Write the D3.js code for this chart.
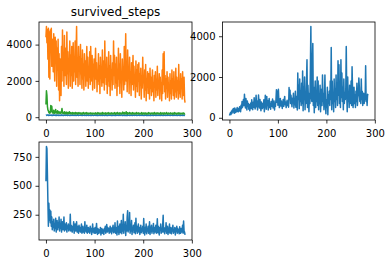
<!DOCTYPE html>
<html>
<head>
<meta charset="utf-8">
<script src="https://cdn.jsdelivr.net/npm/d3@7"></script>
<style>
  html, body { margin: 0; padding: 0; background: #fff; }
  svg { display: block; font-family: "DejaVu Sans", sans-serif; }
  .tick text { font-size: 10px; fill: #000; }
  .tick line { stroke: #000; stroke-width: 0.8; }
</style>
</head>
<body>
<svg id="fig" width="390" height="264"></svg>
<script>
// survived_steps panel: three series
const survivedBlue = [
  100, 120, 95, 110, 130, 105, 90, 115, 125, 100,
  110, 95, 120, 105, 90, 115, 130, 100, 110, 95,
  105, 125, 90, 110, 100, 120, 95, 115, 105, 90,
  110, 100, 125, 95, 115, 105, 90, 120, 100, 110,
  95, 115, 105, 125, 90, 110, 100, 120, 95, 105,
  115, 90, 110, 100, 125, 105, 95, 115, 100, 110,
  90, 120, 105, 95, 110, 100, 125, 90, 115, 105,
  100, 110, 95, 120, 105, 90, 115, 100, 110, 125,
  95, 105, 115, 90, 110, 100, 120, 95, 105, 115,
  100, 90, 110, 125, 95, 105, 115, 100, 90, 120,
  105, 110, 95, 115, 100, 125, 90, 110, 105, 95,
  120, 100, 110, 90, 115, 105, 95, 125, 100, 110,
  90, 105, 115, 100, 120, 95, 110, 90, 105, 115,
  125, 100, 95, 110, 105, 90, 120, 100, 115, 95,
  110, 105, 90, 125, 100, 115, 95, 110, 105, 120,
  90, 100, 115, 95, 110, 125, 105, 90, 120, 100,
  115, 95, 105, 110, 90, 120, 100, 125, 95, 110,
  105, 115, 90, 100, 120, 95, 110, 105, 90, 115,
  125, 100, 95, 110, 105, 120, 90, 115, 100, 95,
  110, 105, 125, 90, 100, 115, 95, 110, 120, 105,
  90, 100, 115, 95, 125, 110, 105, 90, 120, 100,
  115, 95, 105, 110, 90, 125, 100, 115, 95, 105,
  120, 90, 110, 100, 115, 95, 105, 125, 90, 110,
  100, 115, 95, 105, 120, 90, 110, 100, 125, 95,
  105, 115, 90, 110, 100, 120, 95, 105, 115, 90,
  125, 100, 110, 95, 105, 115, 90, 120, 100, 110,
  95, 105, 125, 90, 115, 100, 110, 95, 120, 105,
  90, 110, 100, 115, 95, 125, 105, 90, 110, 100,
  115, 95, 120, 105, 90, 110, 100
];
const survivedOrange = [
  4400, 5000, 4100, 4800, 3200, 4900, 2200, 4700, 2100, 4800,
  3600, 4900, 2800, 4300, 3900, 2500, 4600, 3300, 2000, 4400,
  3000, 4200, 1700, 3800, 2600, 4300, 1500, 3500, 900, 3200,
  2400, 1200, 3900, 2000, 4800, 2600, 3400, 1700, 4500, 2300,
  3800, 2900, 1800, 4700, 2400, 3600, 1600, 3200, 2800, 4200,
  1700, 3400, 2300, 3900, 1600, 2800, 4100, 2000, 3300, 2500,
  4200, 1800, 3600, 5000, 2200, 3100, 1700, 3900, 2600, 3300,
  1800, 4000, 2400, 3200, 1600, 3700, 2100, 2900, 1500, 3500,
  2300, 3100, 1700, 2800, 3900, 2000, 3300, 1600, 2700, 2200,
  3600, 1800, 3900, 2500, 2000, 3400, 1500, 2900, 2300, 3200,
  1600, 2700, 3800, 2100, 3000, 1400, 2600, 2000, 3500, 1800,
  2800, 1300, 3300, 2200, 2600, 1700, 3700, 2400, 1900, 3100,
  1500, 4200, 2200, 2900, 1800, 3300, 1300, 2500, 2000, 3600,
  1700, 2800, 1200, 3400, 2100, 2600, 1500, 3000, 1800, 4200,
  2300, 3400, 1600, 2900, 1900, 3300, 1200, 2600, 1700, 3800,
  2100, 2900, 1300, 3500, 1900, 2500, 1100, 3200, 2200, 2700,
  1500, 3900, 1800, 2800, 4600, 2000, 3100, 1400, 3700, 2300,
  2700, 1300, 3300, 1900, 2500, 1200, 3000, 1800, 2400, 3400,
  1500, 2800, 1900, 2300, 1100, 3100, 1700, 2600, 1400, 2900,
  2000, 3000, 1200, 2400, 1800, 2700, 1000, 2300, 1600, 3300,
  1900, 2200, 1100, 2600, 1500, 2900, 900, 2100, 1700, 2500,
  1300, 2400, 2000, 1000, 2700, 1600, 2200, 1200, 2000, 2600,
  1400, 1900, 900, 2300, 1700, 2500, 1100, 2100, 1500, 2800,
  1200, 2000, 1600, 2400, 1000, 2200, 1500, 1900, 900, 2600,
  1300, 3500, 1800, 3600, 1400, 2300, 1000, 2100, 1600, 2500,
  1100, 2200, 1500, 1800, 900, 2400, 1300, 2000, 1000, 2600,
  1600, 2100, 1200, 2500, 1000, 1900, 1400, 2700, 1100, 2200,
  1500, 2000, 1000, 2900, 1300, 1800, 1100, 2400, 1600, 2100,
  1000, 2500, 1200, 1900, 2200, 1000, 800
];
const survivedGreen = [
  700, 1450, 1200, 600, 400, 350, 250, 300, 220, 280,
  650, 320, 600, 250, 300, 220, 380, 260, 200, 300,
  420, 250, 300, 200, 350, 260, 220, 300, 250, 200,
  280, 220, 300, 480, 250, 200, 260, 220, 300, 180,
  250, 210, 280, 200, 260, 180, 240, 200, 300, 220,
  190, 250, 200, 230, 170, 260, 210, 190, 240, 180,
  220, 260, 180, 210, 240, 170, 230, 200, 250, 190,
  210, 180, 240, 200, 170, 230, 190, 260, 200, 180,
  230, 190, 210, 250, 180, 200, 230, 170, 220, 190,
  200, 240, 180, 210, 190, 230, 170, 200, 220, 180,
  210, 190, 240, 170, 200, 220, 180, 250, 190, 210,
  180, 230, 200, 170, 220, 190, 260, 180, 200, 230,
  190, 210, 170, 240, 200, 180, 220, 190, 250, 180,
  210, 190, 230, 170, 200, 240, 180, 210, 190, 220,
  180, 250, 200, 170, 230, 190, 210, 260, 180, 200,
  220, 170, 240, 190, 210, 180, 230, 200, 280, 190,
  210, 250, 180, 220, 190, 300, 200, 170, 240, 190,
  220, 180, 260, 200, 190, 230, 170, 210, 250, 180,
  200, 230, 190, 170, 220, 200, 260, 180, 210, 190,
  240, 170, 200, 220, 190, 210, 180, 250, 200, 170,
  230, 190, 210, 180, 240, 200, 170, 220, 190, 210,
  180, 250, 200, 190, 230, 170, 210, 200, 240, 180,
  200, 220, 170, 260, 190, 210, 180, 230, 200, 190,
  240, 180, 210, 190, 220, 170, 250, 200, 180, 230,
  190, 210, 170, 240, 200, 180, 220, 190, 260, 200,
  180, 210, 230, 170, 200, 190, 240, 180, 210, 200,
  170, 230, 190, 210, 180, 250, 200, 190, 220, 170,
  210, 190, 240, 180, 200, 230, 170, 210, 190, 220,
  180, 200, 240, 190, 210, 180, 200
];
// top right panel
const rightValues = [
  110, 180, 250, 160, 320, 210, 380, 280, 450, 300,
  220, 480, 350, 260, 420, 310, 500, 380, 290, 460,
  330, 540, 410, 300, 620, 450, 800, 520, 680, 900,
  600, 1150, 720, 480, 950, 650, 380, 820, 560, 700,
  420, 650, 350, 580, 720, 450, 880, 560, 400, 760,
  520, 980, 620, 430, 700, 1100, 540, 820, 380, 650,
  1120, 700, 480, 900, 560, 350, 780, 620, 450, 700,
  520, 880, 300, 640, 1100, 780, 420, 1050, 600, 850,
  380, 720, 950, 500, 680, 420, 800, 560, 700, 920,
  480, 650, 820, 380, 700, 560, 900, 1380, 760, 1300,
  620, 1400, 850, 500, 720, 950, 580, 820, 680, 460,
  750, 900, 560, 820, 1050, 640, 780, 500, 720, 860,
  600, 760, 520, 1480, 900, 1350, 700, 1100, 820, 540,
  960, 720, 1200, 480, 880, 640, 1300, 520, 1050, 700,
  380, 2200, 900, 1600, 450, 1900, 800, 1300, 600, 1700,
  700, 2300, 350, 1500, 900, 2000, 400, 1200, 700, 1800,
  2850, 500, 1600, 900, 300, 1200, 700, 2400, 4480, 1000,
  800, 2600, 3650, 600, 1500, 250, 1100, 1800, 500, 1300,
  800, 2000, 600, 1800, 400, 1000, 700, 1600, 300, 900,
  1400, 600, 2100, 800, 1200, 400, 1000, 2100, 700, 200,
  900, 500, 1500, 150, 1100, 700, 1300, 600, 1800, 900,
  3450, 400, 1800, 700, 1200, 300, 1900, 800, 1400, 500,
  2100, 900, 1700, 600, 2800, 1100, 2600, 700, 1300, 500,
  2850, 1000, 2200, 800, 1500, 400, 1900, 700, 1200, 900,
  1400, 3500, 1100, 300, 2000, 800, 1300, 500, 1600, 900,
  700, 1800, 600, 2500, 1400, 500, 900, 1500, 700, 1100,
  500, 1300, 800, 1700, 600, 1000, 1200, 1950, 1500, 800,
  1100, 700, 1900, 900, 1300, 600, 1000, 1200, 700, 1100,
  900, 2550, 800, 1100, 600, 1150, 1100
];
// bottom left panel
const lowerValues = [
  540, 840, 820, 600, 360, 150, 350, 200, 290, 180,
  280, 150, 230, 120, 190, 140, 210, 110, 170, 130,
  220, 100, 160, 200, 120, 180, 140, 230, 110, 170,
  130, 210, 100, 160, 190, 120, 150, 230, 110, 170,
  140, 120, 180, 100, 150, 130, 170, 110, 140, 120,
  255, 110, 160, 130, 100, 150, 120, 190, 90, 140,
  170, 110, 130, 190, 100, 150, 120, 90, 160, 110,
  140, 100, 130, 170, 90, 120, 150, 100, 130, 90,
  190, 110, 130, 100, 160, 90, 120, 140, 100, 130,
  90, 150, 110, 130, 80, 120, 170, 100, 130, 90,
  110, 140, 90, 120, 175, 100, 80, 130, 110, 90,
  120, 100, 140, 75, 110, 130, 90, 120, 100, 80,
  130, 110, 150, 90, 120, 165, 100, 140, 110, 130,
  90, 120, 150, 100, 130, 85, 140, 110, 160, 95,
  130, 100, 180, 90, 140, 115, 75, 195, 100, 150,
  80, 130, 170, 95, 120, 200, 85, 140, 110, 253,
  90, 160, 120, 190, 70, 150, 110, 230, 285, 100,
  170, 120, 270, 90, 150, 110, 200, 80, 140, 120,
  160, 95, 130, 180, 85, 220, 110, 150, 90, 130,
  170, 100, 140, 80, 120, 160, 95, 130, 110, 150,
  90, 218, 120, 75, 140, 100, 170, 85, 130, 110,
  150, 90, 120, 190, 80, 140, 105, 160, 90, 130,
  110, 175, 85, 140, 100, 120, 160, 90, 130, 215,
  95, 150, 110, 75, 140, 120, 170, 90, 130, 100,
  160, 245, 100, 140, 85, 130, 110, 180, 90, 120,
  150, 80, 130, 100, 170, 90, 120, 140, 85, 130,
  110, 160, 90, 120, 100, 140, 75, 130, 110, 150,
  90, 130, 100, 120, 85, 145, 110, 90, 130, 100,
  120, 160, 90, 195, 110, 100, 75
];

const xTicks = [0, 100, 200, 300];
const survivedTicks = [0, 2000, 4000];
const rightTicks = [0, 2000, 4000];
const lowerTicks = [250, 500, 750];

const colors = { blue: '#1f77b4', orange: '#ff7f0e', green: '#2ca02c' };

const svg = d3.select('#fig');
const fmt = d3.format('d');

// 加 5% 边距，跟 matplotlib 默认一致
const padded = (lo, hi) => [lo - 0.05 * (hi - lo), hi + 0.05 * (hi - lo)];

const drawPanel = (box, seriesList, yTicks, title) => {
	const all = seriesList.flatMap((s) => s.values);
	const n = d3.max(seriesList, (s) => s.values.length);
	const x = d3.scaleLinear().domain(padded(0, n - 1)).range([0, box.w]);
	const y = d3.scaleLinear().domain(padded(d3.min(all), d3.max(all))).range([box.h, 0]);
	const g = svg.append('g').attr('transform', `translate(${box.x},${box.y})`);

	const line = d3.line().x((d, i) => x(i)).y((d) => y(d));
	seriesList.forEach((s) => {
		g.append('path').datum(s.values).attr('d', line)
			.attr('fill', 'none').attr('stroke', s.color).attr('stroke-width', 1.5)
			.attr('stroke-linejoin', 'round');
	});

	// 坐标轴
	const ax = g.append('g').attr('transform', `translate(0,${box.h})`)
		.call(d3.axisBottom(x).tickValues(xTicks).tickFormat(fmt).tickSize(3.5).tickPadding(6));
	const ay = g.append('g')
		.call(d3.axisLeft(y).tickValues(yTicks).tickFormat(fmt).tickSize(3.5).tickPadding(3.5));
	[ax, ay].forEach((a) => {
		a.select('.domain').remove();
		a.attr('font-family', null).attr('font-size', null);
	});

	g.append('rect').attr('width', box.w).attr('height', box.h)
		.attr('fill', 'none').attr('stroke', '#000').attr('stroke-width', 0.8);

	if (title) {
		g.append('text').attr('x', box.w / 2).attr('y', -6).attr('text-anchor', 'middle')
			.attr('font-size', 12).text(title);
	}
};

drawPanel({ x: 39, y: 22, w: 153, h: 98 }, [
	{ values: survivedBlue, color: colors.blue },
	{ values: survivedOrange, color: colors.orange },
	{ values: survivedGreen, color: colors.green },
], survivedTicks, 'survived_steps');
drawPanel({ x: 222.5, y: 22, w: 152.5, h: 98 }, [{ values: rightValues, color: colors.blue }], rightTicks);
drawPanel({ x: 39, y: 142, w: 153, h: 98 }, [{ values: lowerValues, color: colors.blue }], lowerTicks);
</script>
</body>
</html>
